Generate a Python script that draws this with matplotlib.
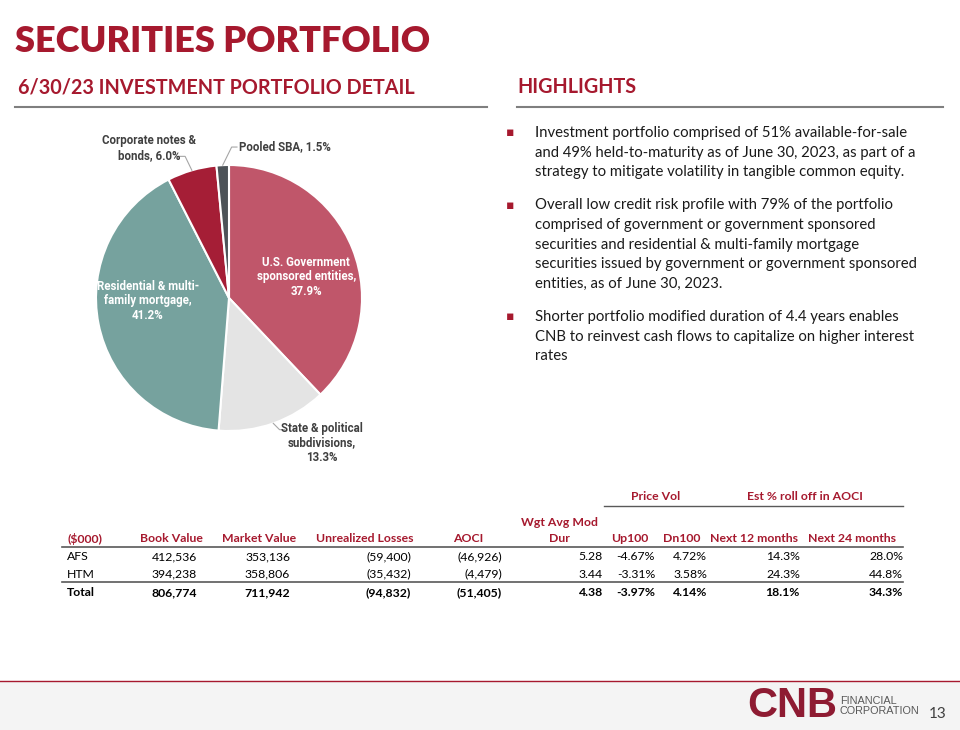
import matplotlib.pyplot as plt
from matplotlib.patches import Rectangle
import numpy as np

RED = '#A6192E'
GRAY_RULE = '#7F7F7F'
BODY = 'Lato'
NARROW = 'Roboto'

# pie data
slice_names = ['U.S. Government\nsponsored entities,\n{:.1f}%',
               'State & political\nsubdivisions,\n{:.1f}%',
               'Residential & multi-\nfamily mortgage,\n{:.1f}%',
               'Corporate notes &\nbonds, {:.1f}%',
               'Pooled SBA, {:.1f}%']
shares = [37.9, 13.3, 41.2, 6.0, 1.5]
slice_colors = ['#C0566A', '#E4E4E4', '#76A29E', '#A51E36', '#4D5358']

# table data
row_labels = ['AFS', 'HTM', 'Total']
book_value = [412536, 394238, 806774]
market_value = [353136, 358806, 711942]
unrealized_losses = [-59400, -35432, -94832]
aoci = [-46926, -4479, -51405]
mod_dur = [5.28, 3.44, 4.38]
up100 = [-4.67, -3.31, -3.97]
dn100 = [4.72, 3.58, 4.14]
next_12 = [14.3, 24.3, 18.1]
next_24 = [28.0, 44.8, 34.3]

bullets = [
    ['Investment portfolio comprised of 51% available-for-sale',
     'and 49% held-to-maturity as of June 30, 2023, as part of a',
     'strategy to mitigate volatility in tangible common equity.'],
    ['Overall low credit risk profile with 79% of the portfolio',
     'comprised of government or government sponsored',
     'securities and residential & multi-family mortgage',
     'securities issued by government or government sponsored',
     'entities, as of June 30, 2023.'],
    ['Shorter portfolio modified duration of 4.4 years enables',
     'CNB to reinvest cash flows to capitalize on higher interest',
     'rates'],
]


def acct(v):
    s = '{:,}'.format(abs(v))
    return '({})'.format(s) if v < 0 else s


fig = plt.figure(figsize=(9.6, 7.3), dpi=100)
bg = fig.add_axes([0, 0, 1, 1])
bg.set_xlim(0, 960)
bg.set_ylim(730, 0)
bg.axis('off')

# titles
bg.text(15, 41, 'SECURITIES PORTFOLIO', family=BODY, weight='heavy', fontsize=26,
        color=RED, va='center', ha='left')
bg.text(18, 87, '6/30/23 INVESTMENT PORTFOLIO DETAIL', family=BODY, weight='bold',
        fontsize=14.2, color=RED, va='center', ha='left')
bg.text(517, 87, 'HIGHLIGHTS', family=BODY, weight='bold', fontsize=14.2, color=RED,
        va='center', ha='left')
bg.plot([15, 487], [107, 107], color=GRAY_RULE, lw=1.5)
bg.plot([517, 943], [107, 107], color=GRAY_RULE, lw=1.5)

# highlights
y = 133
for para in bullets:
    bg.text(510, y, '\u25aa', color=RED, fontsize=9, va='center', ha='center')
    for line in para:
        bg.text(535, y, line, family=BODY, fontsize=10.7, color='#1A1A1A', va='center')
        y += 19.5
    y += 14

# pie
pax = fig.add_axes([96 / 960, (730 - 431) / 730, 266 / 960, 266 / 730])
wedges, _ = pax.pie(shares, colors=slice_colors, startangle=90, counterclock=False,
                    wedgeprops=dict(edgecolor='white', linewidth=1.5))
pax.set_xlim(-1, 1)
pax.set_ylim(-1, 1)
pax.set_aspect('equal')
pax.axis('off')

lbl = dict(family=NARROW, weight='bold', fontsize=8.3, linespacing=1.15, clip_on=False)
txt = [name.format(v) for name, v in zip(slice_names, shares)]
pax.text(0.58, 0.16, txt[0], color='white', ha='center', va='center', **lbl)
pax.text(-0.61, -0.02, txt[2], color='white', ha='center', va='center', **lbl)
pax.text(0.70, -1.09, txt[1], color='#404040', ha='center', va='center', **lbl)
pax.text(-0.60, 1.128, txt[3], color='#404040', ha='center', va='center', **lbl)
pax.text(0.075, 1.135, txt[4], color='#404040', ha='left', va='center', **lbl)


def edge_point(w):
    a = np.deg2rad((w.theta1 + w.theta2) / 2)
    return np.cos(a), np.sin(a)


ex, ey = edge_point(wedges[3])
pax.plot([-0.39, -0.33, ex], [1.065, 1.065, ey], color='#A6A6A6', lw=0.8, clip_on=False)
ex, ey = edge_point(wedges[4])
pax.plot([0.06, 0.02, ex], [1.135, 1.135, ey], color='#A6A6A6', lw=0.8, clip_on=False)
ex, ey = edge_point(wedges[1])
pax.plot([ex, 0.38, 0.42], [ey, -0.99, -0.99], color='#A6A6A6', lw=0.8, clip_on=False)

# table
tfont = dict(family=BODY, fontsize=8.8)
hdr_y = 539
row_y = [557, 574, 593]
bg.text(67, hdr_y, '($000)', color=RED, weight='bold', ha='left', va='center', **tfont)
for r, lab in enumerate(row_labels):
    bg.text(67, row_y[r], lab, color='black', ha='left', va='center',
            weight='bold' if lab == 'Total' else 'normal', **tfont)

cols = [
    ('Book Value', 203, 197, [acct(v) for v in book_value]),
    ('Market Value', 296, 290, [acct(v) for v in market_value]),
    ('Unrealized Losses', 414, 411, [acct(v) for v in unrealized_losses]),
    ('AOCI', 483, 502, [acct(v) for v in aoci]),
    ('Dur', 570, 603, ['{:.2f}'.format(v) for v in mod_dur]),
    ('Up100', 648, 655, ['{:.2f}%'.format(v) for v in up100]),
    ('Dn100', 700, 707, ['{:.2f}%'.format(v) for v in dn100]),
    ('Next 12 months', 798, 800, ['{:.1f}%'.format(v) for v in next_12]),
    ('Next 24 months', 896, 903, ['{:.1f}%'.format(v) for v in next_24]),
]
for head, hx, vx, vals in cols:
    bg.text(hx, hdr_y, head, color=RED, weight='bold', ha='right', va='center', **tfont)
    for r, v in enumerate(vals):
        bg.text(vx, row_y[r], v, color='black', ha='right', va='center',
                weight='bold' if r == 2 else 'normal', **tfont)
bg.text(559, 523, 'Wgt Avg Mod', color=RED, weight='bold', ha='center', va='center', **tfont)
bg.text(656, 497, 'Price Vol', color=RED, weight='bold', ha='center', va='center', **tfont)
bg.text(805, 497, 'Est % roll off in AOCI', color=RED, weight='bold', ha='center', va='center', **tfont)
bg.plot([604, 903], [506, 506], color='#595959', lw=1)
bg.plot([62, 903], [547, 547], color='#595959', lw=1.2)
bg.plot([62, 903], [582, 582], color='#595959', lw=1.2)

# footer
bg.add_patch(Rectangle((0, 681), 960, 49, color='#F4F4F4', zorder=0))
bg.plot([0, 960], [681, 681], color=RED, lw=1)
bg.text(747, 706, 'CNB', family='Liberation Sans', weight='bold', fontsize=30,
        color='#8E1B32', ha='left', va='center')
bg.text(840, 706, 'FINANCIAL\nCORPORATION', family='Liberation Sans', fontsize=7.8,
        color='#595959', ha='left', va='center', linespacing=1.0)
bg.text(947, 714, '13', family=BODY, fontsize=11, color='#404040', ha='right', va='center')

fig.savefig('out.png', dpi=100)
